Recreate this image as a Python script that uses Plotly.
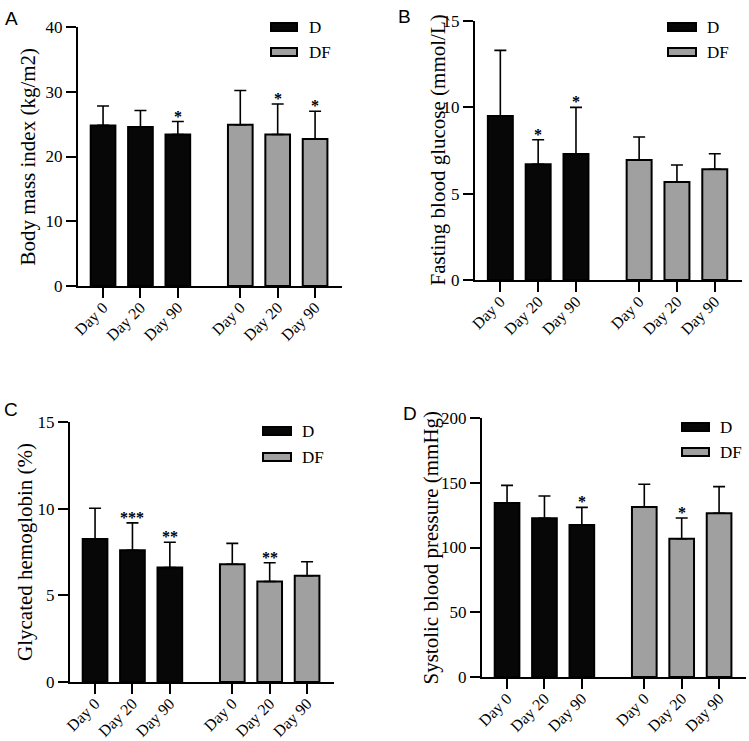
import plotly.graph_objects as go

W, H = 749, 741

categories = ["Day 0", "Day 20", "Day 90"]
groups = ["D", "DF"]

# Panel A: Body mass index
bmi_D = [24.8, 24.55, 23.4]
bmi_D_sd = [3.0, 2.55, 2.0]
bmi_DF = [24.9, 23.4, 22.7]
bmi_DF_sd = [5.3, 4.7, 4.3]
bmi_stars_D = ["", "", "*"]
bmi_stars_DF = ["", "*", "*"]

# Panel B: Fasting blood glucose
fbg_D = [9.5, 6.7, 7.3]
fbg_D_sd = [3.8, 1.42, 2.7]
fbg_DF = [6.95, 5.67, 6.41]
fbg_DF_sd = [1.33, 0.99, 0.9]
fbg_stars_D = ["", "*", "*"]
fbg_stars_DF = ["", "", ""]

# Panel C: Glycated hemoglobin
hba_D = [8.25, 7.6, 6.61]
hba_D_sd = [1.77, 1.58, 1.45]
hba_DF = [6.79, 5.8, 6.13]
hba_DF_sd = [1.21, 1.08, 0.81]
hba_stars_D = ["", "***", "**"]
hba_stars_DF = ["", "**", ""]

# Panel D: Systolic blood pressure
sbp_D = [134.4, 122.5, 117.4]
sbp_D_sd = [13.6, 17.3, 13.6]
sbp_DF = [131.3, 106.8, 126.4]
sbp_DF_sd = [17.5, 16.0, 20.6]
sbp_stars_D = ["", "", "*"]
sbp_stars_DF = ["", "*", ""]

panels = [
    dict(letter="A", title="Body mass index (kg/m2)", D=bmi_D, Dsd=bmi_D_sd, DF=bmi_DF, DFsd=bmi_DF_sd,
         sD=bmi_stars_D, sDF=bmi_stars_DF, ymax=40, dt=10,
         box=(78, 342, 27, 286), letter_xy=(3, 6), title_x=28, leg=(271, 297, 27, 52, 307)),
    dict(letter="B", title="Fasting blood glucose (mmol/L)", D=fbg_D, Dsd=fbg_D_sd, DF=fbg_DF, DFsd=fbg_DF_sd,
         sD=fbg_stars_D, sDF=fbg_stars_DF, ymax=15, dt=5,
         box=(475, 742, 21, 280), letter_xy=(396, 4), title_x=438, leg=(668, 696, 27, 52, 705)),
    dict(letter="C", title="Glycated hemoglobin (%)", D=hba_D, Dsd=hba_D_sd, DF=hba_DF, DFsd=hba_DF_sd,
         sD=hba_stars_D, sDF=hba_stars_DF, ymax=15, dt=5,
         box=(70, 334, 422, 682), letter_xy=(2, 397), title_x=25, leg=(263, 291, 431, 457, 300)),
    dict(letter="D", title="Systolic blood pressure (mmHg)", D=sbp_D, Dsd=sbp_D_sd, DF=sbp_DF, DFsd=sbp_DF_sd,
         sD=sbp_stars_D, sDF=sbp_stars_DF, ymax=200, dt=50,
         box=(482, 746, 418, 677), letter_xy=(401, 401), title_x=430, leg=(682, 709, 427, 452, 718)),
]

pos_D = [0, 1, 2]
pos_DF = [3.67, 4.67, 5.67]
xr = [-0.67, 6.39]

SERIF = "Liberation Serif, Times New Roman, serif"
SANS = "Liberation Sans, Arial, sans-serif"
D_COLOR = "#070707"
DF_COLOR = "#a0a0a0"

fig = go.Figure()
layout = dict(width=W, height=H, margin=dict(l=0, r=0, t=0, b=0, autoexpand=False),
              paper_bgcolor="white", plot_bgcolor="white", showlegend=False, template="none")
annotations = []
shapes = []

def px(x):
    return x / W

def py(y):
    return 1 - y / H

for i, p in enumerate(panels, start=1):
    xa = "x" if i == 1 else f"x{i}"
    ya = "y" if i == 1 else f"y{i}"
    x0, x1, y0, y1 = p["box"]
    for vals, sds, pos, col, stars in [(p["D"], p["Dsd"], pos_D, D_COLOR, p["sD"]),
                                       (p["DF"], p["DFsd"], pos_DF, DF_COLOR, p["sDF"])]:
        fig.add_trace(go.Bar(
            x=pos, y=vals, width=0.66, xaxis=xa, yaxis=ya,
            marker=dict(color=col, line=dict(color="black", width=2)),
            error_y=dict(type="data", symmetric=False, array=sds, arrayminus=[0] * len(sds),
                         width=6, thickness=1.6, color="black"),
            hoverinfo="skip"))
        for xv, v, s, st in zip(pos, vals, sds, stars):
            if st:
                annotations.append(dict(x=xv, y=v + s, xref=xa, yref=ya, text="<b>" + st + "</b>",
                                        showarrow=False, yanchor="bottom", yshift=-5,
                                        font=dict(family=SERIF, size=16, color="black")))
    key = "xaxis" if i == 1 else f"xaxis{i}"
    keyy = "yaxis" if i == 1 else f"yaxis{i}"
    layout[key] = dict(domain=[px(x0), px(x1)], anchor=ya, range=xr, automargin=False,
                       tickvals=pos_D + pos_DF, ticktext=categories + categories,
                       tickangle=-45, ticks="outside", ticklen=10, tickwidth=2, tickcolor="black",
                       ticklabelstandoff=-6,
                       showline=True, linewidth=2, linecolor="black", showgrid=False, zeroline=False,
                       tickfont=dict(family=SERIF, size=16, color="black"), fixedrange=True)
    layout[keyy] = dict(domain=[py(y1), py(y0)], anchor=xa, range=[0, p["ymax"]], automargin=False,
                        tickvals=list(range(0, p["ymax"] + 1, p["dt"])),
                        ticks="outside", ticklen=10, tickwidth=2, tickcolor="black",
                        showline=True, linewidth=2, linecolor="black", showgrid=False, zeroline=False,
                        tickfont=dict(family=SERIF, size=17, color="black"), fixedrange=True)
    # panel letter
    lx, ly = p["letter_xy"]
    annotations.append(dict(x=px(lx), y=py(ly), xref="paper", yref="paper", text=p["letter"],
                            showarrow=False, xanchor="left", yanchor="top",
                            font=dict(family=SANS, size=19, color="black")))
    # y title
    annotations.append(dict(x=px(p["title_x"]), y=py((y0 + y1) / 2), xref="paper", yref="paper",
                            text=p["title"], textangle=-90, showarrow=False,
                            xanchor="center", yanchor="middle",
                            font=dict(family=SERIF, size=21, color="black")))
    # legend
    lx0, lx1, lyD, lyDF, ltx = p["leg"]
    for yy, col, name in [(lyD, D_COLOR, groups[0]), (lyDF, DF_COLOR, groups[1])]:
        shapes.append(dict(type="rect", xref="paper", yref="paper",
                           x0=px(lx0), x1=px(lx1), y0=py(yy + 4), y1=py(yy - 4),
                           fillcolor=col, line=dict(color="black", width=2)))
        annotations.append(dict(x=px(ltx), y=py(yy), xref="paper", yref="paper", text=name,
                                showarrow=False, xanchor="left", yanchor="middle",
                                font=dict(family=SERIF, size=17, color="black")))

layout["annotations"] = annotations
layout["shapes"] = shapes
fig.update_layout(**layout)
fig.write_html("out.html", config={"displayModeBar": False, "staticPlot": True},
               post_script="document.documentElement.style.margin='0';document.body.style.margin='0';"
                           "document.body.style.overflow='hidden';"
                           "var d=document.getElementById('{plot_id}');d.style.position='fixed';"
                           "d.style.left='0px';d.style.top='0px';")
